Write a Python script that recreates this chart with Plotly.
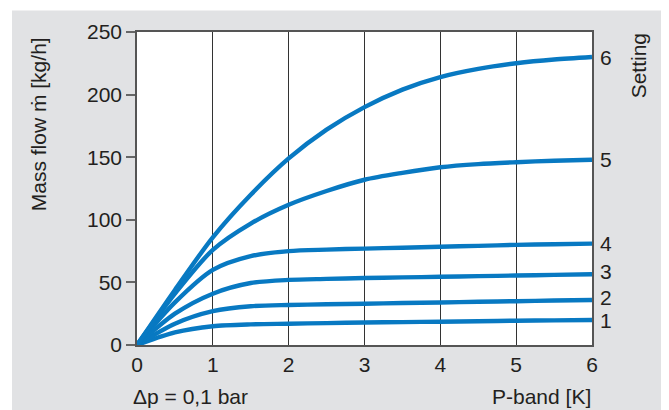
import plotly.graph_objects as go

# P-band [K]
x_pts = [0, 0.5, 1, 1.5, 2, 2.5, 3, 3.5, 4, 4.5, 5, 5.5, 6]
# Mass flow [kg/h] per setting
s1 = [0, 10, 15, 16.5, 17, 17.5, 18, 18.3, 18.6, 19, 19.4, 19.7, 20]
s2 = [0, 17, 27, 31, 32, 32.5, 33, 33.5, 34, 34.5, 35, 35.5, 36]
s3 = [0, 25, 41, 49.5, 52, 52.8, 53.5, 54, 54.5, 55, 55.5, 56, 56.5]
s4 = [0, 34, 60, 71, 75, 76.2, 77, 77.7, 78.5, 79.2, 80, 80.5, 81]
s5 = [0, 41, 76, 97, 112, 123, 132, 137.5, 142, 144.5, 146, 147.2, 148]
s6 = [0, 44, 86, 120, 149, 172, 190, 204, 214, 220.5, 225, 228, 230]
series = [s1, s2, s3, s4, s5, s6]
setting_labels = ["1", "2", "3", "4", "5", "6"]
x_ticks = [0, 1, 2, 3, 4, 5, 6]
y_ticks = [0, 50, 100, 150, 200, 250]

BLUE = "#0879c2"
TXT = "#231f20"
FONT = "Liberation Sans, Arial, sans-serif"
FS = 21

fig = go.Figure()
for s in series:
    fig.add_trace(go.Scatter(x=x_pts, y=s, mode="lines",
                             line=dict(color=BLUE, width=4.4, shape="spline", smoothing=0.8),
                             hoverinfo="skip", showlegend=False, cliponaxis=False))

# page has an 8px body margin; work in figure coordinates = reference - 8
OFF = 8
W, H = 669 - OFF, 410 - OFF
L, R, T, B = 137 - OFF, 592 - OFF, 26 - OFF, 345 - OFF
pw, ph = R - L, B - T

def px(xp):
    return (xp - OFF - L) / pw

def py(yp):
    return (B - (yp - OFF)) / ph

shapes = [
    dict(type="rect", xref="paper", yref="paper", x0=px(12), x1=px(664), y0=py(412), y1=py(4),
         fillcolor="#e1e2e4", line=dict(width=0), layer="below"),
    dict(type="rect", xref="paper", yref="paper", x0=0, x1=1, y0=0, y1=1,
         fillcolor="white", line=dict(width=0), layer="below"),
]

label_shift = [-1, 2, 3, 0, 0, 0]
annotations = []
for lab, s, sh in zip(setting_labels, series, label_shift):
    annotations.append(dict(x=6, y=s[-1], xref="x", yref="y", text=lab, showarrow=False,
                            xanchor="left", yanchor="middle", xshift=6, yshift=sh,
                            font=dict(size=FS, color=TXT, family=FONT)))
annotations += [
    dict(x=px(38), y=py(120), xref="paper", yref="paper", text="Mass flow ṁ [kg/h]",
         textangle=-90, showarrow=False, xanchor="center", yanchor="middle",
         font=dict(size=FS, color=TXT, family=FONT)),
    dict(x=px(638), y=py(61), xref="paper", yref="paper", text="Setting",
         textangle=-90, showarrow=False, xanchor="center", yanchor="middle",
         font=dict(size=FS, color=TXT, family=FONT)),
    dict(x=px(131), y=py(397), xref="paper", yref="paper", text="Δp = 0,1 bar",
         showarrow=False, xanchor="left", yanchor="middle",
         font=dict(size=FS, color=TXT, family=FONT)),
    dict(x=px(593), y=py(397), xref="paper", yref="paper", text="P-band [K]",
         showarrow=False, xanchor="right", yanchor="middle",
         font=dict(size=FS, color=TXT, family=FONT)),
]

fig.update_layout(
    width=W, height=H,
    margin=dict(l=L, r=W - R, t=T, b=H - B, pad=0),
    paper_bgcolor="white", plot_bgcolor="rgba(0,0,0,0)",
    shapes=shapes, annotations=annotations,
    font=dict(family=FONT, size=FS, color=TXT),
    xaxis=dict(range=[0, 6], tickvals=x_ticks, showgrid=True, gridcolor="#333333", gridwidth=1,
               zeroline=False, showline=True, linecolor="#555555", linewidth=1.5, mirror=True,
               ticks="", tickfont=dict(size=FS, color=TXT), fixedrange=True),
    yaxis=dict(range=[0, 250], tickvals=y_ticks, showgrid=False, zeroline=False,
               showline=True, linecolor="#555555", linewidth=1.5, mirror=True,
               ticks="outside", ticklen=9, tickwidth=1.5, tickcolor="#666666",
               tickfont=dict(size=FS, color=TXT), fixedrange=True),
)

fig.write_html("out.html")
